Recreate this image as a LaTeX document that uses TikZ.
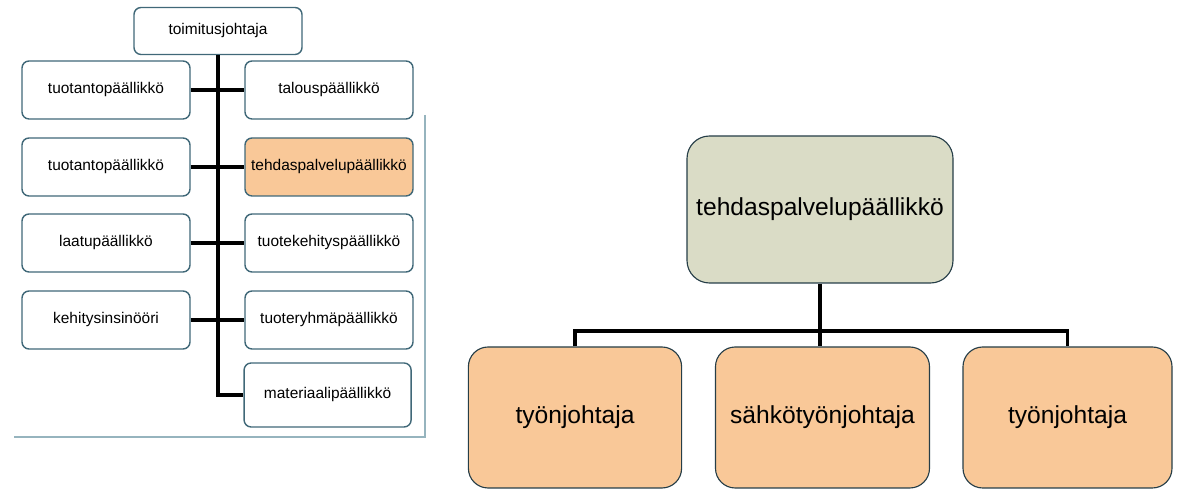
\documentclass[tikz,border=0pt]{standalone}
\usepackage{fontspec}
\setmainfont{Liberation Sans}
\usetikzlibrary{positioning,calc}
\definecolor{boxteal}{RGB}{64,104,120}
\definecolor{boxpeach}{RGB}{249,200,152}
\definecolor{boxsage}{RGB}{218,220,198}
\definecolor{framegray}{RGB}{150,180,190}
\tikzset{
  box/.style={draw=boxteal, rounded corners=5pt, minimum width=4.2cm, minimum height=1.45cm,
              align=center, font=\fontsize{11}{13}\selectfont, fill=white, line width=1pt,
              inner sep=1pt},
  keybox/.style={box, fill=boxpeach},
  bigbox/.style={draw=boxteal!60!black, rounded corners=14pt, minimum width=5.33cm,
                 minimum height=3.525cm, align=center, font=\fontsize{17.5}{20}\selectfont,
                 fill=boxpeach, line width=0.8pt, inner sep=1pt},
  link/.style={line width=2.8pt, draw=black},
  framing/.style={line width=0.8pt, draw=framegray},
}
\begin{document}
\begin{tikzpicture}
\useasboundingbox (0,0) rectangle (29.45,12.25);

% ================= left: whole organisation =================
\node[box, minimum height=1.175cm] (ceo) at (5.45,11.475) {toimitusjohtaja};

\node[box] (l1) at (2.65,10.0) {tuotantopäällikkö};
\node[box] (l2) at (2.65,8.075) {tuotantopäällikkö};
\node[box] (l3) at (2.65,6.175) {laatupäällikkö};
\node[box] (l4) at (2.65,4.25) {kehitysinsinööri};

\node[box] (r1) at (8.225,10.0) {talouspäällikkö};
\node[keybox] (r2) at (8.225,8.075) {tehdaspalvelupäällikkö};
\node[box] (r3) at (8.225,6.175) {tuotekehityspäällikkö};
\node[box] (r4) at (8.225,4.25) {tuoteryhmäpäällikkö};
\node[box, minimum width=4.175cm, minimum height=1.6cm] (r5) at (8.19,2.375) {materiaalipäällikkö};

\draw[link] (ceo.south) |- (r5.west);
\foreach \i in {1,...,4}
  \draw[link] (l\i.east) -- (r\i.west);

% frame round the left chart
\draw[framing] (10.625,9.375) -- (10.625,1.325) -- (0.35,1.325);

% ================= right: one department =================
\node[bigbox, fill=boxsage, minimum width=6.65cm, minimum height=3.675cm, rounded corners=16pt]
  (chief) at (20.5,7.0125) {tehdaspalvelupäällikkö};

\node[bigbox] (w1) at (14.375,1.8125) {työnjohtaja};
\node[bigbox, minimum width=5.35cm] (w2) at (20.5625,1.8125) {sähkötyönjohtaja};
\node[bigbox, minimum width=5.225cm] (w3) at (26.6875,1.8125) {työnjohtaja};

\draw[link] (w1.north) -- ++(0,0.375) -| (w3.north);
\draw[link] (chief.south) -- (chief.south |- w2.north);

\end{tikzpicture}
\end{document}
